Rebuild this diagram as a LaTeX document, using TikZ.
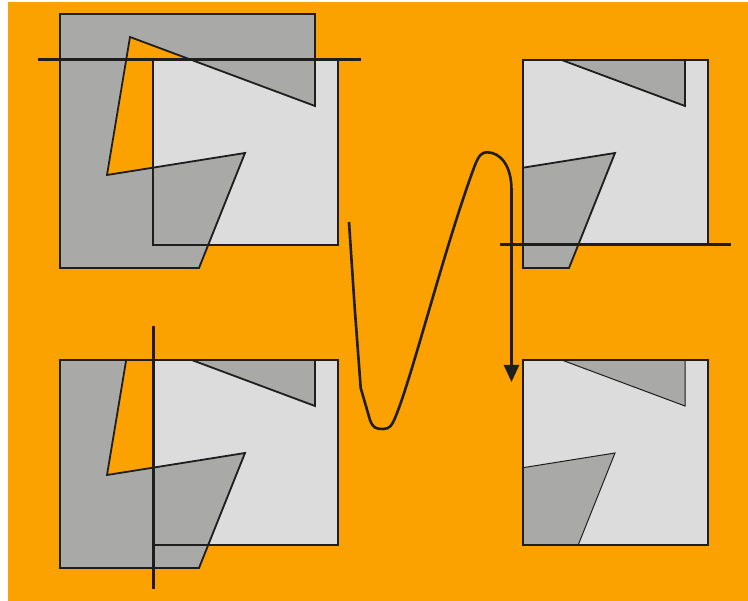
\documentclass[tikz,border=0pt]{standalone}
\usetikzlibrary{arrows.meta}
\definecolor{bgorange}{HTML}{FBA100}
\definecolor{lightfill}{HTML}{DCDCDC}
\definecolor{darkfill}{HTML}{A9A9A8}
\definecolor{ink}{HTML}{1E1E1E}
\tikzset{
  clipwin/.style={fill=lightfill},
  clipborder/.style={draw=ink,line width=2pt},
  subject/.style={fill=darkfill,draw=ink,line width=1.8pt,line join=miter},
  thinsubject/.style={fill=darkfill,draw=ink,line width=1pt},
  clipline/.style={draw=ink,line width=3pt},
  flow/.style={draw=ink,line width=2.6pt,line join=round,-{Triangle[width=15pt,length=17pt]}}
}
\begin{document}
\begin{tikzpicture}[x=1pt,y=-1pt]
\useasboundingbox (0,0) rectangle (748,601);
\fill[bgorange] (8,2) rectangle (748,601);

% panel 1: original polygon, top clip line
\fill[clipwin] (153,60) rectangle (338,245);
\path[subject] (60,14) -- (315,14) -- (315,106) -- (130,37) -- (107,175) -- (245,153) -- (199,268) -- (60,268) -- cycle;
\draw[clipborder] (153,60) rectangle (338,245);
\draw[clipline] (38,60) -- (361,60);

% panel 2: after top and left clip, bottom clip line
\begin{scope}[shift={(370,0)}]
\fill[clipwin] (153,60) rectangle (338,245);
\path[subject] (153,60) -- (315,60) -- (315,106) -- (191.7,60) -- (153,60) -- (153,167.7) -- (245,153) -- (199,268) -- (153,268) -- cycle;
\draw[clipborder] (153,60) rectangle (338,245);
\draw[clipline] (130,245) -- (361,245);
\end{scope}

% panel 3: after top clip, left clip line
\begin{scope}[shift={(0,300)}]
\fill[clipwin] (153,60) rectangle (338,245);
\path[subject] (315,60) -- (315,106) -- (191.7,60) -- (126.2,60) -- (107,175) -- (245,153) -- (199,268) -- (60,268) -- (60,60) -- cycle;
\draw[clipborder] (153,60) rectangle (338,245);
\draw[clipline] (153,26) -- (153,289);
\end{scope}

% panel 4: final result
\begin{scope}[shift={(370,300)}]
\fill[clipwin] (153,60) rectangle (338,245);
\path[thinsubject] (153,60) -- (315,60) -- (315,106) -- (191.7,60) -- (153,60) -- (153,167.7) -- (245,153) -- (208.2,245) -- (153,245) -- cycle;
\draw[clipborder,line width=2.6pt] (153,60) rectangle (338,245);
\end{scope}

% flow curve
\coordinate (fstart) at (349,222);
\coordinate (fend) at (511.5,382);
\draw[flow] (fstart) -- (354.7,308) -- (360.7,388)
  -- (370,420)
  .. controls (373,428) and (376,429) .. (383,429)
  .. controls (390,429) and (392,425) .. (395,418)
  .. controls (412,378) and (445,245) .. (475,165)
  .. controls (479,155) and (482,152.3) .. (487,152.3)
  .. controls (500,152.3) and (511.5,165) .. (511.5,190)
  -- (fend);
\end{tikzpicture}
\end{document}
